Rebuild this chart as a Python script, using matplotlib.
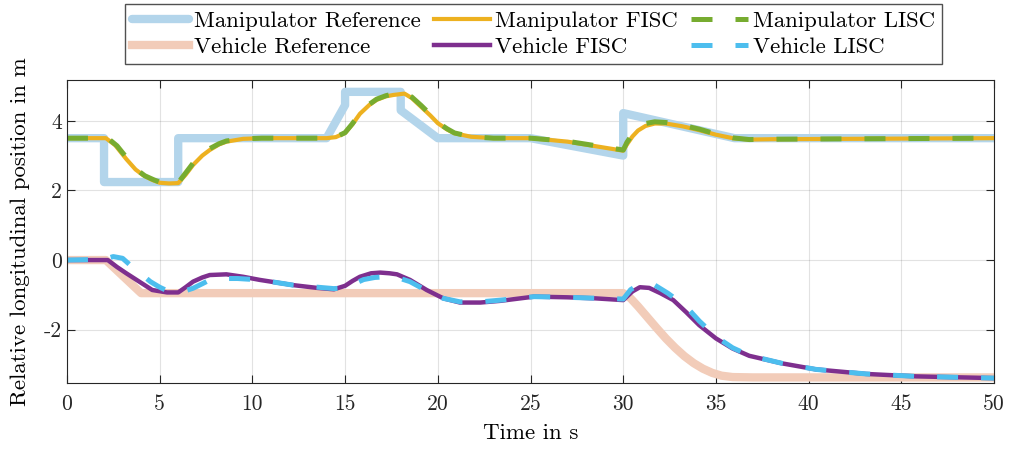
import matplotlib
matplotlib.use("Agg")
import matplotlib.pyplot as plt

plt.rcParams['font.family'] = 'cmr10'
plt.rcParams['mathtext.fontset'] = 'cm'
plt.rcParams['axes.unicode_minus'] = False

# manipulator reference
t_mref = [0, 2, 2, 6, 6, 14, 15, 15, 18, 18, 20, 25, 30, 30, 36, 50]
mref = [3.5, 3.5, 2.24, 2.24, 3.5, 3.5, 4.45, 4.83, 4.83, 4.3, 3.5, 3.5, 3.0, 4.22, 3.5, 3.5]

# manipulator FISC
t_mfisc = [0, 2.1, 2.6, 3.2, 3.7, 4.1, 4.6, 5.0, 5.5, 6.0, 6.4, 6.8, 7.3, 7.7, 8.2, 8.6, 9.5, 10.5,
           14.0, 14.5, 15.0, 15.4, 15.8, 16.3, 16.7, 17.2, 17.6, 18.2, 18.6, 19.1, 19.6, 20.0, 20.5,
           20.9, 21.8, 23.0, 25.0, 27.0, 30.0, 30.2, 30.5, 30.8, 31.2, 31.7, 32.3, 33.2, 34.1, 35.0, 35.9,
           36.8, 38.0, 50]
mfisc = [3.5, 3.5, 3.3, 2.9, 2.6, 2.44, 2.3, 2.22, 2.2, 2.21, 2.45, 2.73, 3.0, 3.16, 3.32, 3.40, 3.48, 3.5,
         3.5, 3.53, 3.65, 3.9, 4.2, 4.45, 4.6, 4.7, 4.74, 4.78, 4.65, 4.4, 4.15, 3.93, 3.75,
         3.64, 3.54, 3.5, 3.5, 3.4, 3.14, 3.32, 3.55, 3.72, 3.85, 3.92, 3.92, 3.84, 3.73, 3.6, 3.5,
         3.46, 3.47, 3.5]

# manipulator LISC
t_mlisc = [0, 2.2, 2.7, 3.2, 3.7, 4.2, 4.7, 5.1, 5.6, 6.0, 6.4, 6.8, 7.3, 7.7, 8.2, 8.6, 9.5, 10.5,
           14.0, 14.5, 15.0, 15.4, 15.8, 16.3, 16.7, 17.2, 17.6, 18.2, 18.6, 19.1, 19.6, 20.0, 20.5,
           20.9, 21.8, 23.0, 25.0, 27.0, 30.0, 30.2, 30.5, 30.8, 31.2, 31.7, 32.3, 33.2, 34.1, 35.0, 35.9,
           36.8, 38.0, 50]
mlisc = [3.5, 3.5, 3.28, 2.95, 2.62, 2.42, 2.3, 2.22, 2.2, 2.22, 2.5, 2.78, 3.05, 3.2, 3.34, 3.42, 3.48, 3.5,
         3.5, 3.53, 3.66, 3.92, 4.22, 4.47, 4.62, 4.72, 4.77, 4.8, 4.68, 4.44, 4.18, 3.95, 3.77,
         3.65, 3.54, 3.5, 3.5, 3.41, 3.16, 3.38, 3.62, 3.8, 3.92, 3.97, 3.95, 3.87, 3.76, 3.62, 3.51,
         3.46, 3.47, 3.5]

# vehicle reference
t_vref = [0, 2.1, 4.0, 30.0, 30.4, 30.8, 31.3, 31.8, 32.3, 32.8, 33.3, 33.8, 34.3, 34.8, 35.3, 35.9, 37.0, 50]
vref = [0, 0, -0.95, -0.95, -1.1, -1.33, -1.64, -1.95, -2.25, -2.52, -2.76, -2.96, -3.12, -3.24, -3.32,
        -3.36, -3.37, -3.37]

# vehicle FISC
t_vfisc = [0, 2.2, 2.7, 3.2, 3.9, 4.6, 5.4, 6.0, 6.4, 6.8, 7.3, 7.7, 8.6, 9.5, 10.4, 12.2, 13.5, 14.4,
           15.0, 15.4, 15.8, 16.4, 16.9, 17.4, 17.8, 18.5, 19.4, 20.3, 21.2, 22.3, 23.4, 25.2, 27.0,
           28.5, 30.0, 30.5, 30.9, 31.4, 32.0, 32.7, 33.4, 34.1, 35.0, 35.9, 36.8, 38.6, 40.4, 43.1,
           45.8, 50]
vfisc = [0, 0, -0.2, -0.38, -0.62, -0.86, -0.93, -0.93, -0.78, -0.62, -0.5, -0.43, -0.41, -0.48, -0.57,
         -0.72, -0.8, -0.84, -0.74, -0.6, -0.48, -0.38, -0.36, -0.38, -0.41, -0.57, -0.86, -1.1, -1.22,
         -1.22, -1.17, -1.05, -1.07, -1.1, -1.15, -0.9, -0.78, -0.8, -0.95, -1.15, -1.5, -1.87, -2.25,
         -2.54, -2.75, -2.97, -3.14, -3.27, -3.34, -3.39]

# vehicle LISC
t_vlisc = [0, 2.0, 2.5, 3.0, 3.4, 4.0, 4.5, 5.0, 5.4, 5.9, 6.4, 6.8, 7.3, 7.7, 8.5, 9.2, 10.4, 12.2,
           14.4, 15.0, 15.5, 16.0, 16.6, 17.2, 17.8, 18.5, 19.4, 20.3, 21.2, 22.3, 23.4, 25.2, 27.0,
           30.0, 30.4, 30.8, 31.2, 31.7, 32.4, 33.4, 34.1, 35.0, 35.9, 36.8, 38.6, 40.4, 43.1, 45.8, 50]
vlisc = [0, 0.02, 0.1, 0.05, -0.14, -0.4, -0.62, -0.78, -0.88, -0.9, -0.88, -0.81, -0.68, -0.57, -0.53,
         -0.53, -0.57, -0.72, -0.82, -0.8, -0.68, -0.56, -0.5, -0.48, -0.5, -0.62, -0.88, -1.1, -1.2,
         -1.2, -1.15, -1.05, -1.07, -1.12, -0.85, -0.72, -0.68, -0.72, -0.95, -1.34, -1.75, -2.2, -2.52,
         -2.74, -2.97, -3.14, -3.27, -3.34, -3.39]

fig = plt.figure(figsize=(10.13, 4.51), dpi=100)
ax = fig.add_axes([0.0661, 0.1508, 0.9152, 0.6718])

h1, = ax.plot(t_mref, mref, color='#b3d5eb', lw=6, solid_joinstyle='round', solid_capstyle='round',
              label='Manipulator Reference')
h2, = ax.plot(t_vref, vref, color='#f2ccb9', lw=6, solid_joinstyle='round',
              label='Vehicle Reference')
h3, = ax.plot(t_mfisc, mfisc, color='#EDB120', lw=3, label='Manipulator FISC')
h4, = ax.plot(t_vfisc, vfisc, color='#7E2F8E', lw=3.2, label='Vehicle FISC')
h5, = ax.plot(t_mlisc, mlisc, color='#77AC30', lw=3.6, dashes=(4.2, 4.6), label='Manipulator LISC')
h6, = ax.plot(t_vlisc, vlisc, color='#4DBEEE', lw=3.6, dashes=(4.2, 4.6), label='Vehicle LISC')

ax.set_xlim(0, 50)
ax.set_ylim(-3.53, 5.17)
ax.set_xticks(range(0, 51, 5))
ax.set_yticks([-2, 0, 2, 4])
ax.set_yticklabels(['-2', '0', '2', '4'])
ax.tick_params(direction='in', top=True, right=True, length=6, width=0.8,
               labelsize=15.5, colors='#262626')
ax.tick_params(axis='x', pad=8)
ax.grid(True, color='#262626', alpha=0.13, lw=0.8)
for s in ax.spines.values():
    s.set_color('#262626')
    s.set_linewidth(0.8)

ax.set_xlabel('Time in s', fontsize=16.5, labelpad=7)
ax.set_ylabel('Relative longitudinal position in m', fontsize=16.5, labelpad=10)

fig.legend(handles=[h1, h2, h3, h4, h5, h6], ncol=3, loc='upper left',
           bbox_to_anchor=(125 / 1013, 1 - 4 / 451), fontsize=16.4, handlelength=2.5,
           frameon=True, fancybox=False, edgecolor='#262626', borderaxespad=0,
           labelspacing=0.28, columnspacing=0.57, handletextpad=0.22, borderpad=0.3)
fig.savefig('out.png', dpi=100)
